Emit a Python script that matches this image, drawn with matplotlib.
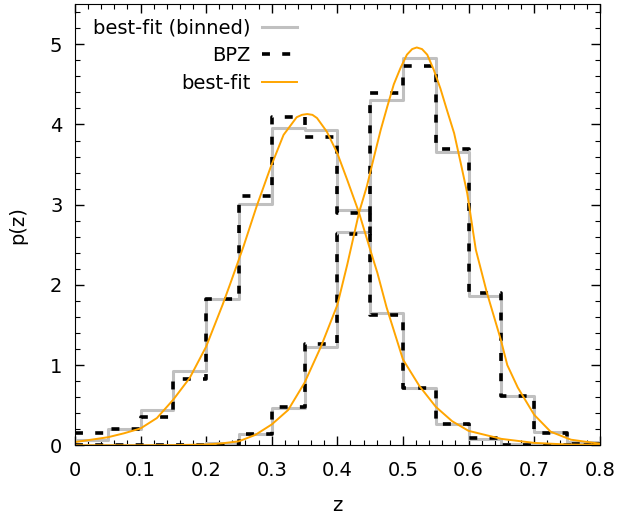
import numpy as np
import matplotlib
matplotlib.use("Agg")
import matplotlib.pyplot as plt

# bin edges of the binned p(z)
edges = np.linspace(0.0, 0.8, 17)

# best-fit p(z) integrated in bins of 0.05, two objects
binned_a = [0.06, 0.20, 0.44, 0.93, 1.82, 3.01, 3.95, 3.93,
            2.93, 1.65, 0.72, 0.26, 0.08, 0.01, 0.0, 0.0]
binned_b = [0.0, 0.0, 0.0, 0.0, 0.03, 0.14, 0.47, 1.23,
            2.66, 4.31, 4.83, 3.66, 1.86, 0.62, 0.16, 0.04]

# BPZ p(z) in the same bins
bpz_a = [0.15, 0.20, 0.35, 0.83, 1.82, 3.11, 4.09, 3.84,
         2.90, 1.63, 0.72, 0.26, 0.09, 0.0, 0.0, 0.0]
bpz_b = [0.0, 0.0, 0.0, 0.0, 0.0, 0.14, 0.48, 1.26,
         2.64, 4.39, 4.73, 3.69, 1.90, 0.62, 0.15, 0.02]

# best-fit curves
z_a = [0.0, 0.025, 0.05, 0.075, 0.1, 0.125, 0.15, 0.175, 0.2, 0.225,
       0.237, 0.257, 0.277, 0.298, 0.318, 0.338, 0.346, 0.354, 0.362,
       0.369, 0.384, 0.4, 0.415, 0.433, 0.45, 0.461, 0.475, 0.5, 0.525,
       0.55, 0.575, 0.6, 0.65, 0.7, 0.75, 0.8]
p_a = [0.04, 0.07, 0.10, 0.15, 0.21, 0.34, 0.57, 0.84, 1.23, 1.75,
       2.02, 2.48, 2.98, 3.46, 3.87, 4.09, 4.12, 4.13, 4.12,
       4.08, 3.91, 3.64, 3.31, 2.90, 2.44, 2.15, 1.72, 1.07, 0.74,
       0.48, 0.30, 0.18, 0.08, 0.03, 0.01, 0.005]

z_b = [0.0, 0.1, 0.15, 0.2, 0.225, 0.25, 0.275, 0.3, 0.325, 0.35,
       0.375, 0.4, 0.415, 0.433, 0.445, 0.456, 0.466, 0.476, 0.486,
       0.496, 0.506, 0.514, 0.521, 0.529, 0.537, 0.547, 0.557, 0.567,
       0.578, 0.588, 0.598, 0.611, 0.628, 0.649, 0.659, 0.675, 0.7,
       0.725, 0.756, 0.791, 0.8]
p_b = [0.0, 0.0, 0.002, 0.01, 0.025, 0.05, 0.13, 0.26, 0.44, 0.78,
       1.23, 1.75, 2.25, 2.90, 3.23, 3.60, 3.93, 4.22, 4.50,
       4.70, 4.87, 4.94, 4.96, 4.94, 4.87, 4.68, 4.45, 4.18,
       3.89, 3.52, 3.14, 2.44, 1.90, 1.32, 1.00, 0.72, 0.38,
       0.17, 0.07, 0.03, 0.02]

xticks = [0, 0.1, 0.2, 0.3, 0.4, 0.5, 0.6, 0.7, 0.8]
xticklabels = ["0", "0.1", "0.2", "0.3", "0.4", "0.5", "0.6", "0.7", "0.8"]
yticks = [0, 1, 2, 3, 4, 5]


def steps(values):
    return np.append(values, values[-1])


def main():
    plt.rcParams["font.family"] = "DejaVu Sans"
    plt.rcParams["font.size"] = 14

    fig = plt.figure(figsize=(6.19, 5.19), dpi=100)
    ax = fig.add_axes([0.121, 0.142, 0.848, 0.850])

    grey = "#c0c0c0"
    ax.step(edges, steps(binned_a), where="post", color=grey, lw=2.2,
            label="best-fit (binned)")
    ax.step(edges, steps(binned_b), where="post", color=grey, lw=2.2)

    bpz_style = dict(color="black", lw=2.6, linestyle=(0, (2.2, 3.4)))
    ax.step(edges, steps(bpz_a), where="post", label="BPZ", **bpz_style)
    ax.step(edges, steps(bpz_b), where="post", **bpz_style)

    ax.plot(z_a, p_a, color="#ffa500", lw=1.4, label="best-fit")
    ax.plot(z_b, p_b, color="#ffa500", lw=1.4)

    ax.set_xlim(0, 0.8)
    ax.set_ylim(0, 5.5)
    ax.set_xticks(xticks)
    ax.set_xticklabels(xticklabels)
    ax.set_yticks(yticks)
    ax.set_xticks(np.arange(0, 0.801, 0.02), minor=True)
    ax.set_yticks(np.arange(0, 5.51, 0.2), minor=True)
    ax.tick_params(which="both", direction="in", top=True, right=True)
    ax.tick_params(which="major", length=6.5, width=1, pad=9)
    ax.tick_params(axis="x", which="major", pad=11)
    ax.tick_params(which="minor", length=3.5, width=0.8)

    ax.set_xlabel("z", labelpad=12)
    ax.set_ylabel("p(z)", labelpad=16)

    ax.legend(loc="upper left", bbox_to_anchor=(0.019, 0.985),
              frameon=False, markerfirst=False,
              handlelength=1.8, handletextpad=0.6, labelspacing=0.45,
              borderaxespad=0.0, borderpad=0.4)

    fig.savefig("out.png", dpi=100)


if __name__ == "__main__":
    main()
